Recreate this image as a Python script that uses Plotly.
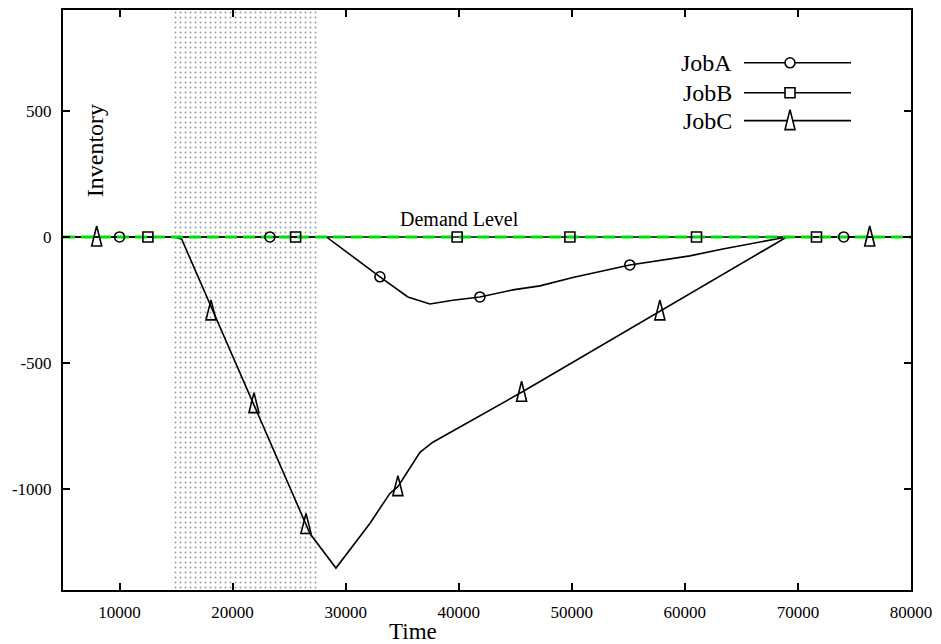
import plotly.graph_objects as go

# ---------------- data ----------------
time_a = [5000, 28300, 33030, 35500, 37450, 39480, 41870, 44790, 47180, 50090, 55130, 58050, 60440, 63360, 66890, 69010, 80000]
inv_a = [0, 0, -158, -238, -266, -251, -238, -210, -194, -161, -111, -91, -75, -48, -19, 0, 0]

time_b = [5000, 80000]
inv_b = [0, 0]

time_c = [5000, 14900, 15500, 26840, 29140, 31260, 32140, 33910, 34620, 36570, 37710, 45560, 69010, 80000]
inv_c = [0, 0, -9, -1176, -1313, -1190, -1136, -1017, -990, -854, -814, -616, 0, 0]

mark_a_x = [10000, 23300, 33030, 41870, 55130, 74050]
mark_a_y = [0, 0, -158, -238, -111, 0]
mark_b_x = [12510, 25570, 39860, 49830, 61030, 71640]
mark_b_y = [0, 0, 0, 0, 0, 0]
mark_c_x = [7980, 18090, 21890, 26490, 34620, 45560, 57790, 76350]
mark_c_y = [0, -293, -661, -1140, -990, -616, -293, 0]

demand_x = [5000, 80000]
demand_y = [0, 0]

shade_x = [14600, 27500]

series_names = ["JobA", "JobB", "JobC"]
x_ticks = [10000, 20000, 30000, 40000, 50000, 60000, 70000, 80000]
y_ticks = [-1000, -500, 0, 500]

FONT = "Liberation Serif"
fig = go.Figure()

# shaded (dotted) interval
fig.add_trace(go.Scatter(
    x=[shade_x[0], shade_x[1], shade_x[1], shade_x[0], shade_x[0]],
    y=[-2000, -2000, 2000, 2000, -2000],
    mode="none", fill="toself", fillcolor="rgba(0,0,0,0)",
    fillpattern=dict(shape=".", size=5, solidity=0.12, fgcolor="#333333", bgcolor="white"),
    hoverinfo="skip", showlegend=False))

# lines
for xs, ys in [(time_b, inv_b), (time_a, inv_a), (time_c, inv_c)]:
    fig.add_trace(go.Scatter(x=xs, y=ys, mode="lines",
                             line=dict(color="black", width=1.6), showlegend=False))

# demand level
fig.add_trace(go.Scatter(x=demand_x, y=demand_y, mode="lines",
                         line=dict(color="#00e000", width=3, dash="12px,6px"), showlegend=False))

# markers
fig.add_trace(go.Scatter(x=mark_a_x, y=mark_a_y, mode="markers",
                         marker=dict(symbol="circle-open", size=10, color="black", line=dict(width=1.6)),
                         showlegend=False))
fig.add_trace(go.Scatter(x=mark_b_x, y=mark_b_y, mode="markers",
                         marker=dict(symbol="square-open", size=10, color="black", line=dict(width=1.6)),
                         showlegend=False))

TRI = "M-5,-9 L5,-9 L0,11 Z"
shapes = []
for xv, yv in zip(mark_c_x, mark_c_y):
    shapes.append(dict(type="path", xref="x", yref="y", xsizemode="pixel", ysizemode="pixel",
                       xanchor=xv, yanchor=yv, path=TRI, line=dict(color="black", width=1.6),
                       fillcolor="rgba(0,0,0,0)"))

# custom gnuplot-style legend (text left, sample line right)
W, H, L, T = 848, 582, 63, 8
def px(x):
    return (x - L) / W
def py(y):
    return (T + H - y) / H
rows = [61, 91, 119]
annotations = []
for name, ry in zip(series_names, rows):
    yp = py(ry)
    shapes.append(dict(type="line", xref="paper", yref="paper", x0=px(744), x1=px(851), y0=yp, y1=yp,
                       line=dict(color="black", width=1.6)))
    annotations.append(dict(text=name, xref="paper", yref="paper", x=px(734), y=yp, xanchor="right",
                            yanchor="middle", showarrow=False, font=dict(family=FONT, size=24, color="black")))
mx = px(790)
shapes.append(dict(type="circle", xref="paper", yref="paper", xsizemode="pixel", ysizemode="pixel",
                   xanchor=mx, yanchor=py(rows[0]), x0=-5, x1=5, y0=-5, y1=5,
                   line=dict(color="black", width=1.6), fillcolor="white"))
shapes.append(dict(type="rect", xref="paper", yref="paper", xsizemode="pixel", ysizemode="pixel",
                   xanchor=mx, yanchor=py(rows[1]), x0=-5, x1=5, y0=-5, y1=5,
                   line=dict(color="black", width=1.6), fillcolor="white"))
shapes.append(dict(type="path", xref="paper", yref="paper", xsizemode="pixel", ysizemode="pixel",
                   xanchor=mx, yanchor=py(rows[2]), path=TRI,
                   line=dict(color="black", width=1.6), fillcolor="white"))

annotations.append(dict(text="Demand Level", x=40100, y=0, xref="x", yref="y", xanchor="center",
                        yanchor="bottom", yshift=5,
                        showarrow=False, font=dict(family=FONT, size=20, color="black")))
annotations.append(dict(text="Inventory", x=7830, y=340, xref="x", yref="y", textangle=-90,
                        xanchor="center", yanchor="middle",
                        showarrow=False, font=dict(family=FONT, size=24, color="black")))
annotations.append(dict(text="Time", x=px(413), y=py(632), xref="paper", yref="paper",
                        xanchor="center", yanchor="middle",
                        showarrow=False, font=dict(family=FONT, size=23, color="black")))

axis_common = dict(showline=True, linecolor="black", linewidth=2, mirror="allticks",
                   ticks="inside", ticklen=7, tickwidth=1.5, tickcolor="black",
                   showgrid=False, zeroline=False,
                   tickfont=dict(family=FONT, size=17, color="black"))

fig.update_layout(
    width=941, height=644,
    margin=dict(l=63, r=30, t=8, b=54),
    paper_bgcolor="white", plot_bgcolor="white",
    showlegend=False,
    xaxis=dict(range=[5000, 80000], tickvals=x_ticks, ticktext=[str(v) for v in x_ticks],
               ticklabelstandoff=6, **axis_common),
    yaxis=dict(range=[-1400, 900], tickvals=y_ticks, ticktext=[str(v) for v in y_ticks],
               ticklabelstandoff=6, **axis_common),
    shapes=shapes, annotations=annotations,
)

fig.write_html("out.html")
